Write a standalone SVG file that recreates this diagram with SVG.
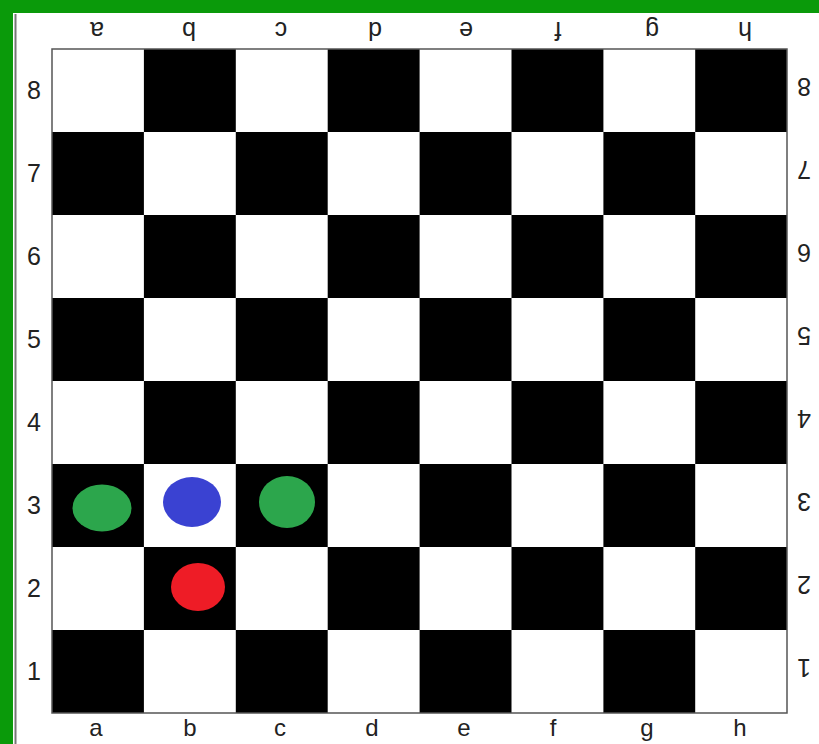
<svg xmlns="http://www.w3.org/2000/svg" width="819" height="744" viewBox="0 0 819 744">
<style>
.lbl{font-family:"Liberation Sans",Arial,sans-serif;font-size:25px;fill:#222;text-anchor:middle}
.bot{font-size:24px}
.b{fill:#000}
.piece{stroke:none}
</style>
<rect x="0" y="0" width="819" height="744" fill="#fff"/>
<rect x="0" y="0" width="819" height="13" fill="#0a9a0a"/>
<rect x="0" y="0" width="13" height="744" fill="#0a9a0a"/>
<line x1="15.5" y1="14" x2="15.5" y2="744" stroke="#777" stroke-width="2"/>
<g id="board">
<rect x="52" y="49" width="735" height="664" fill="#fff"/>
<g id="squares" class="b">
<rect x="143.9" y="49" width="91.9" height="83"/>
<rect x="327.7" y="49" width="91.9" height="83"/>
<rect x="511.5" y="49" width="91.9" height="83"/>
<rect x="695.2" y="49" width="91.8" height="83"/>
<rect x="52" y="132" width="91.9" height="83"/>
<rect x="235.8" y="132" width="91.9" height="83"/>
<rect x="419.6" y="132" width="91.9" height="83"/>
<rect x="603.4" y="132" width="91.8" height="83"/>
<rect x="143.9" y="215" width="91.9" height="83"/>
<rect x="327.7" y="215" width="91.9" height="83"/>
<rect x="511.5" y="215" width="91.9" height="83"/>
<rect x="695.2" y="215" width="91.8" height="83"/>
<rect x="52" y="298" width="91.9" height="83"/>
<rect x="235.8" y="298" width="91.9" height="83"/>
<rect x="419.6" y="298" width="91.9" height="83"/>
<rect x="603.4" y="298" width="91.8" height="83"/>
<rect x="143.9" y="381" width="91.9" height="83"/>
<rect x="327.7" y="381" width="91.9" height="83"/>
<rect x="511.5" y="381" width="91.9" height="83"/>
<rect x="695.2" y="381" width="91.8" height="83"/>
<rect x="52" y="464" width="91.9" height="83"/>
<rect x="235.8" y="464" width="91.9" height="83"/>
<rect x="419.6" y="464" width="91.9" height="83"/>
<rect x="603.4" y="464" width="91.8" height="83"/>
<rect x="143.9" y="547" width="91.9" height="83"/>
<rect x="327.7" y="547" width="91.9" height="83"/>
<rect x="511.5" y="547" width="91.9" height="83"/>
<rect x="695.2" y="547" width="91.8" height="83"/>
<rect x="52" y="630" width="91.9" height="83"/>
<rect x="235.8" y="630" width="91.9" height="83"/>
<rect x="419.6" y="630" width="91.9" height="83"/>
<rect x="603.4" y="630" width="91.8" height="83"/>
</g>
<rect x="52" y="49" width="735" height="664" fill="none" stroke="#555" stroke-width="1.5"/>
</g>
<g id="labels-bottom" class="lbl bot">
<text x="96" y="736">a</text>
<text x="190" y="736">b</text>
<text x="280" y="736">c</text>
<text x="372" y="736">d</text>
<text x="464" y="736">e</text>
<text x="553" y="736">f</text>
<text x="647" y="736">g</text>
<text x="740" y="736">h</text>
</g>
<g id="labels-top" class="lbl">
<text x="97" y="22" transform="rotate(180 97 22)">a</text>
<text x="189" y="22" transform="rotate(180 189 22)">b</text>
<text x="281" y="22" transform="rotate(180 281 22)">c</text>
<text x="375" y="22" transform="rotate(180 375 22)">d</text>
<text x="466" y="22" transform="rotate(180 466 22)">e</text>
<text x="558" y="22" transform="rotate(180 558 22)">f</text>
<text x="652" y="22" transform="rotate(180 652 22)">g</text>
<text x="745" y="22" transform="rotate(180 745 22)">h</text>
</g>
<g id="labels-left" class="lbl">
<text x="34" y="99">8</text>
<text x="34" y="182">7</text>
<text x="34" y="265">6</text>
<text x="34" y="348">5</text>
<text x="34" y="431">4</text>
<text x="34" y="514">3</text>
<text x="34" y="597">2</text>
<text x="34" y="680">1</text>
</g>
<g id="labels-right" class="lbl">
<text x="804" y="78" transform="rotate(180 804 78)">8</text>
<text x="804" y="161" transform="rotate(180 804 161)">7</text>
<text x="804" y="244" transform="rotate(180 804 244)">6</text>
<text x="804" y="327" transform="rotate(180 804 327)">5</text>
<text x="804" y="410" transform="rotate(180 804 410)">4</text>
<text x="804" y="493" transform="rotate(180 804 493)">3</text>
<text x="804" y="576" transform="rotate(180 804 576)">2</text>
<text x="804" y="659" transform="rotate(180 804 659)">1</text>
</g>
<g id="piece-a3"><ellipse class="piece" cx="102" cy="508" rx="29.5" ry="23.5" fill="#2ca64c"/></g>
<g id="piece-b3"><ellipse class="piece" cx="192" cy="502" rx="29" ry="25" fill="#3a42d2"/></g>
<g id="piece-c3"><ellipse class="piece" cx="287" cy="502" rx="28" ry="26" fill="#2ca64c"/></g>
<g id="piece-b2"><ellipse class="piece" cx="198" cy="587" rx="27" ry="24" fill="#ee1c26"/></g>
</svg>
